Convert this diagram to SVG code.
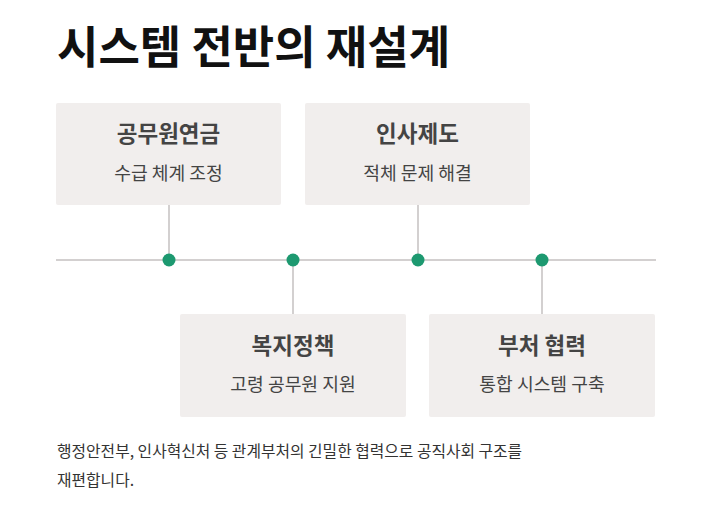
<svg xmlns="http://www.w3.org/2000/svg" width="713" height="507" viewBox="0 0 713 507">
<style>
text{font-family:"Noto Sans CJK KR","Noto Sans",sans-serif}
.box{fill:#f1eeed}
.t{font-size:22.5px;font-weight:bold;fill:#444;text-anchor:middle}
.s{font-size:18.2px;fill:#444;text-anchor:middle}
.ln{stroke:#d3d0d0;stroke-width:2;fill:none}
.dot{fill:#1d9970}
</style>
<rect width="713" height="507" fill="#fff"/>
<text x="57" y="64" font-size="45" font-weight="bold" fill="#111">시스템 전반의 재설계</text>
<g id="connectors">
<line class="ln" x1="56" y1="260" x2="656" y2="260"/>
<line class="ln" x1="169" y1="205" x2="169" y2="260"/>
<line class="ln" x1="418" y1="205" x2="418" y2="260"/>
<line class="ln" x1="293" y1="260" x2="293" y2="314"/>
<line class="ln" x1="542" y1="260" x2="542" y2="314"/>
<circle class="dot" cx="169" cy="260" r="6.5"/>
<circle class="dot" cx="293" cy="260" r="6.5"/>
<circle class="dot" cx="418" cy="260" r="6.5"/>
<circle class="dot" cx="542" cy="260" r="6.5"/>
</g>
<g id="node1">
<rect class="box" x="56" y="103" width="225" height="102" rx="2"/>
<text class="t" x="168.5" y="142">공무원연금</text>
<text class="s" x="168.5" y="180">수급 체계 조정</text>
</g>
<g id="node2">
<rect class="box" x="305" y="103" width="225" height="102" rx="2"/>
<text class="t" x="417.5" y="142">인사제도</text>
<text class="s" x="417.5" y="180">적체 문제 해결</text>
</g>
<g id="node3">
<rect class="box" x="180" y="314" width="226" height="103" rx="2"/>
<text class="t" x="293" y="354">복지정책</text>
<text class="s" x="293" y="391">고령 공무원 지원</text>
</g>
<g id="node4">
<rect class="box" x="429" y="314" width="226" height="103" rx="2"/>
<text class="t" x="542" y="354">부처 협력</text>
<text class="s" x="542" y="391">통합 시스템 구축</text>
</g>
<text x="57" y="457" font-size="15.8" fill="#333">행정안전부, 인사혁신처 등 관계부처의 긴밀한 협력으로 공직사회 구조를</text>
<text x="57" y="486" font-size="15.8" fill="#333">재편합니다.</text>
</svg>
